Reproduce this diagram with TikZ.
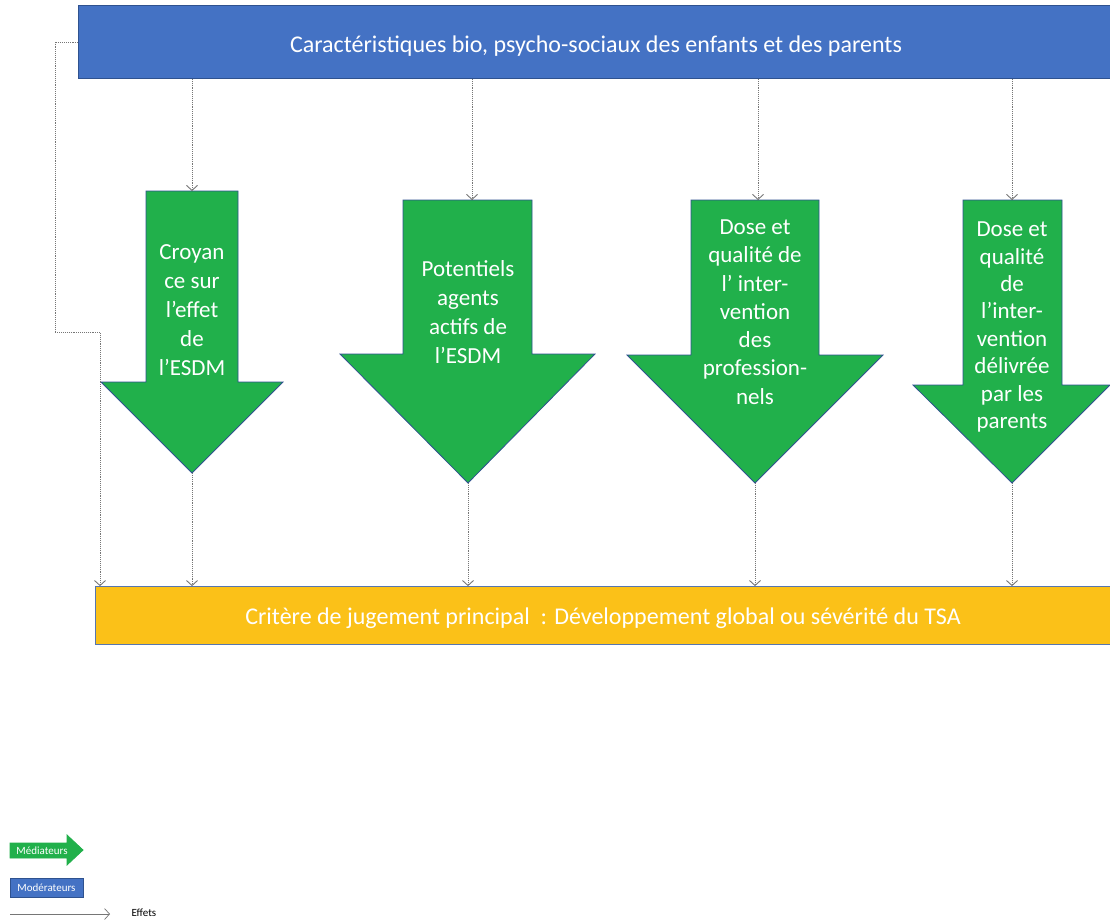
\documentclass[tikz,border=0pt]{standalone}
\usepackage{fontspec}
\setmainfont{Carlito}
\usetikzlibrary{arrows.meta}
\definecolor{modblue}{HTML}{4472C4}
\definecolor{modedge}{HTML}{2F528F}
\definecolor{medgreen}{HTML}{21B04B}
\definecolor{outyellow}{HTML}{FBC118}
\definecolor{linkgray}{HTML}{767676}
\tikzset{
  modbox/.style={fill=modblue, draw=modedge, line width=0.8pt, text=white, inner sep=0pt},
  outbox/.style={fill=outyellow, draw=modblue!70!gray, line width=0.8pt, text=white, inner sep=0pt},
  boxtext/.style={text=white, font=\fontsize{24}{28}\selectfont},
  medshape/.style={fill=medgreen, draw=modedge, line width=0.8pt, line join=miter},
  medtext/.style={text=white, align=center, font=\fontsize{23}{29}\selectfont},
  effect/.style={draw=linkgray, line width=0.9pt, densely dotted, -{Straight Barb[length=5pt,width=11pt]}},
  legtext/.style={font=\fontsize{11}{13}\selectfont},
}
\begin{document}
\begin{tikzpicture}[x=1pt, y=-1pt]
\useasboundingbox[fill=white] (0,0) rectangle (1110,919);

% moderator box
\node[modbox, minimum width=1032pt, minimum height=73pt] (mod) at (594.5,42) {};
\node[boxtext] (modtext) at (596,46) {Caractéristiques bio, psycho-sociaux des enfants et des parents};

% outcome box
\node[outbox, minimum width=1015pt, minimum height=58pt] (out) at (602.5,615.5) {};
\node[boxtext] (outtext) at (603,618) {Critère de jugement principal\ \ : Développement global ou sévérité du TSA};

% mediator 1
\draw[medshape] (146,191) -- (238,191) -- (238,382) -- (283,382) -- (192,473) -- (101,382) -- (146,382) -- cycle;
\coordinate (m1-top) at (192,191);
\coordinate (m1-tip) at (192,473);
\node[medtext] (m1) at (192,310) {Croyan\\ce sur\\l’effet\\de\\l’ESDM};

% mediator 2
\draw[medshape] (403,200) -- (532,200) -- (532,354) -- (595,354) -- (468,483) -- (340,354) -- (403,354) -- cycle;
\coordinate (m2-top) at (472,200);
\coordinate (m2-tip) at (468,483);
\node[medtext] (m2) at (468,312) {Potentiels\\agents\\actifs de\\l’ESDM};

% mediator 3
\draw[medshape] (691,200) -- (819,200) -- (819,355) -- (883,355) -- (755,483) -- (627,355) -- (691,355) -- cycle;
\coordinate (m3-top) at (758,200);
\coordinate (m3-tip) at (755,483);
\node[medtext, font=\fontsize{23}{28.3}\selectfont] (m3) at (755,312) {Dose et\\qualité de\\l’ inter-\\vention\\des\\profession-\\nels};

% mediator 4
\draw[medshape] (963,200) -- (1062,200) -- (1062,385) -- (1110,385) -- (1012,483) -- (913,385) -- (963,385) -- cycle;
\coordinate (m4-top) at (1012,200);
\coordinate (m4-tip) at (1012,483);
\node[medtext, font=\fontsize{23}{27.4}\selectfont] (m4) at (1012,327) {Dose et\\qualité\\de\\l’inter-\\vention\\délivrée\\par les\\parents};

% effects
\foreach \m in {m1,m2,m3,m4}{
  \draw[effect] (mod.south -| \m-top) -- (\m-top);
  \draw[effect] (\m-tip) -- (\m-tip |- out.north);
}

% moderation line
\coordinate (bendA) at (55,332);
\coordinate (bendB) at (100,332);
\draw[effect] (mod.west) -| (bendA) -- (bendB) -- (bendB |- out.north);

% legend
\draw[medshape, draw=medgreen] (10,843) -- (67,843) -- (67,835) -- (83,850) -- (67,865) -- (67,858) -- (10,858) -- cycle;
\node[legtext, text=white] (legmed) at (42,850.5) {Médiateurs};
\node[modbox, minimum width=73pt, minimum height=19pt, legtext] (legmod) at (46.5,887.5) {Modérateurs};
\coordinate (legA) at (10,914);
\coordinate (legB) at (110,914);
\draw[effect, solid, line width=0.7pt] (legA) -- (legB);
\node[legtext, text=black] (legeff) at (144,913) {Effets};
\end{tikzpicture}
\end{document}
